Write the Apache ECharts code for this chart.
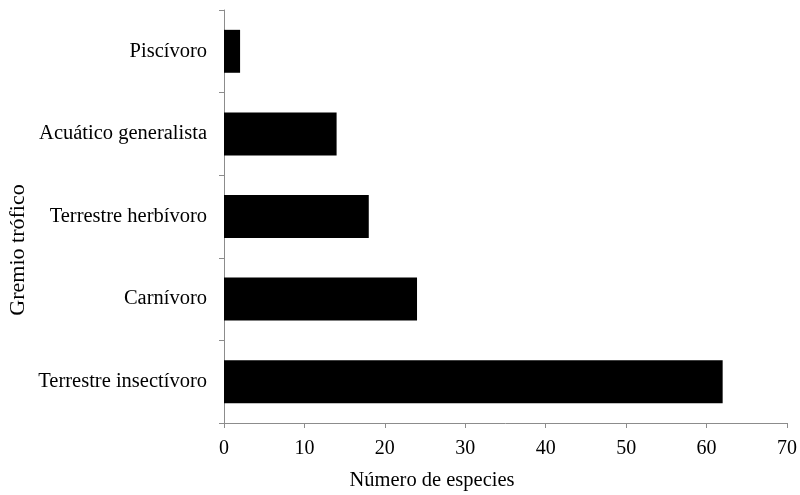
<!DOCTYPE html>
<html><head><meta charset="utf-8">
<script src="https://cdn.jsdelivr.net/npm/echarts@6/dist/echarts.min.js"></script>
<style>html,body{margin:0;padding:0;background:#fff}#c{width:800px;height:495px}</style>
</head><body><div id="c"></div>
<script>
const categories = ['Terrestre insectívoro', 'Carnívoro', 'Terrestre herbívoro', 'Acuático generalista', 'Piscívoro'];
const values = [62, 24, 18, 14, 2];
const xTicks = [0, 10, 20, 30, 40, 50, 60, 70];
const xTitle = 'Número de especies';
const yTitle = 'Gremio trófico';

const font = '"Liberation Serif", "Times New Roman", serif';
const chart = echarts.init(document.getElementById('c'), null, {renderer: 'canvas'});
chart.setOption({
  animation: false,
  backgroundColor: '#fff',
  grid: {left: 224, right: 13, top: 10, bottom: 72, containLabel: false, outerBoundsMode: 'none'},
  xAxis: {
    type: 'value', min: xTicks[0], max: xTicks[xTicks.length - 1], interval: 10,
    axisLine: {show: true, lineStyle: {color: '#8c8c8c', width: 1}},
    axisTick: {show: true, length: 5, lineStyle: {color: '#8c8c8c'}},
    axisLabel: {fontFamily: font, fontSize: 20, color: '#000', margin: 16},
    splitLine: {show: false}
  },
  yAxis: {
    type: 'category', data: categories,
    axisLine: {show: true, lineStyle: {color: '#8c8c8c', width: 1}},
    axisTick: {show: true, length: 5, lineStyle: {color: '#8c8c8c'}},
    axisLabel: {fontFamily: font, fontSize: 20.5, color: '#000', margin: 17},
    splitLine: {show: false}
  },
  graphic: [{
    type: 'text', rotation: Math.PI / 2,
    x: 18, y: 250,
    style: {text: yTitle, font: '22px ' + font, fill: '#000', textAlign: 'center', textVerticalAlign: 'middle'}
  }, {
    type: 'text', x: 432, y: 481,
    style: {text: xTitle, font: '20.5px ' + font, fill: '#000', textAlign: 'center', textVerticalAlign: 'middle'}
  }],
  series: [{
    type: 'bar', data: values, barWidth: '52%',
    itemStyle: {color: '#000'}
  }]
});
</script></body></html>
